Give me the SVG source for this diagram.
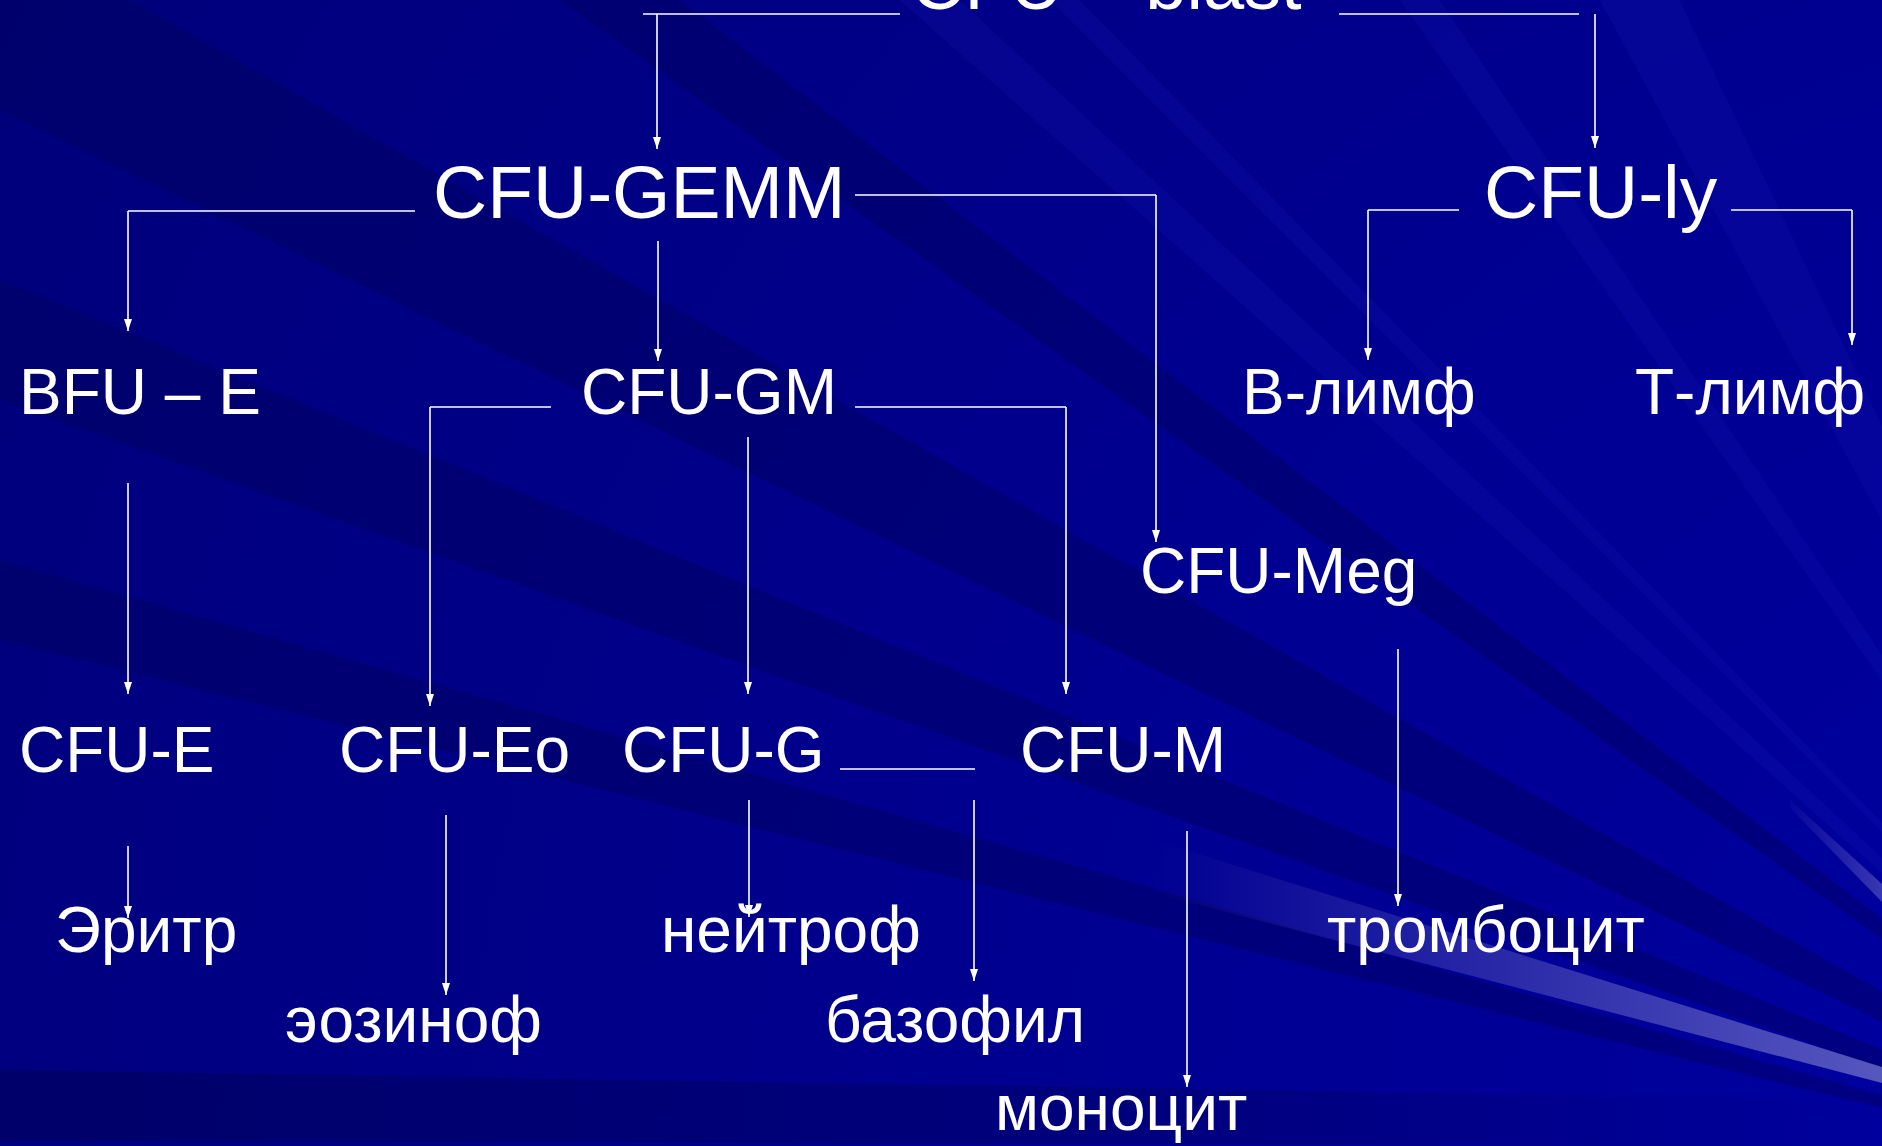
<svg xmlns="http://www.w3.org/2000/svg" width="1882" height="1146" viewBox="0 0 1882 1146">
<defs>
<radialGradient id="bg" gradientUnits="userSpaceOnUse" cx="2250" cy="1200" r="2600">
<stop offset="0" stop-color="#0000A4"/>
<stop offset="1" stop-color="#00007A"/>
</radialGradient>
<linearGradient id="ray1" gradientUnits="userSpaceOnUse" x1="1150" y1="0" x2="1882" y2="0">
<stop offset="0" stop-color="#FFFFFF" stop-opacity="0"/>
<stop offset="1" stop-color="#FFFFFF" stop-opacity="0.34"/>
</linearGradient>
<linearGradient id="ray2" gradientUnits="userSpaceOnUse" x1="1780" y1="0" x2="1882" y2="0">
<stop offset="0" stop-color="#FFFFFF" stop-opacity="0"/>
<stop offset="1" stop-color="#FFFFFF" stop-opacity="0.22"/>
</linearGradient>
<linearGradient id="botfade" gradientUnits="userSpaceOnUse" x1="0" y1="0" x2="1882" y2="0">
<stop offset="0" stop-color="#000058" stop-opacity="0.55"/>
<stop offset="0.7" stop-color="#000058" stop-opacity="0.3"/>
<stop offset="1" stop-color="#000058" stop-opacity="0"/>
</linearGradient>
<marker id="arr" viewBox="0 0 12 8" refX="12" refY="4" markerUnits="userSpaceOnUse" markerWidth="12" markerHeight="8" orient="auto">
<path d="M0,0 L12,4 L0,8 z" fill="#FFFFFF"/>
</marker>
<style>
.t{font-family:"Liberation Sans",Arial,sans-serif;fill:#FFFFFF}
.big{font-size:75px}
.mid{font-size:64px}
.c line{stroke:#FFFFFF;stroke-width:1.6;fill:none}
.a{marker-end:url(#arr)}
.dk{fill:#00005A;opacity:0.42}
.lt{fill:#2020C8;opacity:0.14}
</style>
</defs>
<g id="background">
<rect x="0" y="0" width="1882" height="1146" fill="url(#bg)"/>
<polygon class="dk" points="2250,1200 -400,-300 -300,-35"/>
<polygon class="dk" points="2250,1200 137,-300 287,-300"/>
<polygon class="dk" points="2250,1200 -300,157 -300,293"/>
<polygon class="dk" points="2250,1200 -300,475 -300,565"/>
<polygon class="lt" points="2250,1200 562,-300 637,-300"/>
<polygon class="lt" points="2250,1200 750,-300 787,-300"/>
<polygon class="lt" points="2250,1200 1187,-300 1237,-300"/>
<polygon class="lt" points="2250,1200 1437,-300 1537,-300"/>
<polygon points="0,1070 1882,1100 1882,1146 0,1140" fill="url(#botfade)"/>
<polygon points="1150,839 1882,1067 1882,1083 1150,892" fill="url(#ray1)"/>
<polygon points="1790,800 1882,884 1882,902 1790,808" fill="url(#ray2)"/>
</g>
<g id="connectors" class="c">
<line x1="643" y1="14" x2="900" y2="14"/>
<line class="a" x1="657" y1="14" x2="657" y2="149"/>
<line x1="1339" y1="14" x2="1579" y2="14"/>
<line class="a" x1="1595" y1="14" x2="1595" y2="148"/>
<line x1="415" y1="211" x2="128" y2="211"/>
<line class="a" x1="128" y1="211" x2="128" y2="331"/>
<line class="a" x1="658" y1="241" x2="658" y2="361"/>
<line x1="855" y1="195" x2="1156" y2="195"/>
<line class="a" x1="1156" y1="195" x2="1156" y2="542"/>
<line x1="1459" y1="210" x2="1368" y2="210"/>
<line class="a" x1="1368" y1="210" x2="1368" y2="360"/>
<line x1="1731" y1="210" x2="1852" y2="210"/>
<line class="a" x1="1852" y1="210" x2="1852" y2="345"/>
<line class="a" x1="128" y1="483" x2="128" y2="694"/>
<line x1="551" y1="407" x2="430" y2="407"/>
<line class="a" x1="430" y1="407" x2="430" y2="706"/>
<line class="a" x1="748" y1="437" x2="748" y2="694"/>
<line x1="855" y1="407" x2="1066" y2="407"/>
<line class="a" x1="1066" y1="407" x2="1066" y2="694"/>
<line class="a" x1="1398" y1="649" x2="1398" y2="906"/>
<line x1="840" y1="769" x2="975" y2="769"/>
<line class="a" x1="128" y1="846" x2="128" y2="918"/>
<line class="a" x1="446" y1="815" x2="446" y2="995"/>
<line class="a" x1="749" y1="800" x2="749" y2="917"/>
<line class="a" x1="974" y1="800" x2="974" y2="981"/>
<line class="a" x1="1187" y1="831" x2="1187" y2="1087"/>
</g>
<g id="n-blast"><text class="t" style="font-size:74px" x="911" y="9">CFU – blast</text></g>
<g id="n-gemm"><text class="t big" x="433" y="218">CFU-GEMM</text></g>
<g id="n-ly"><text class="t big" x="1484" y="218">CFU-ly</text></g>
<g id="n-bfue"><text class="t mid" x="19" y="414">BFU – E</text></g>
<g id="n-gm"><text class="t mid" x="581" y="414">CFU-GM</text></g>
<g id="n-blymph"><text class="t mid" x="1242" y="414">В-лимф</text></g>
<g id="n-tlymph"><text class="t mid" x="1635" y="414">Т-лимф</text></g>
<g id="n-meg"><text class="t mid" x="1140" y="593">CFU-Meg</text></g>
<g id="n-cfue"><text class="t mid" x="19" y="772">CFU-E</text></g>
<g id="n-cfueo"><text class="t mid" x="339" y="772">CFU-Eo</text></g>
<g id="n-cfug"><text class="t mid" x="622" y="772">CFU-G</text></g>
<g id="n-cfum"><text class="t mid" x="1020" y="772">CFU-M</text></g>
<g id="n-eritr"><text class="t mid" x="55" y="952">Эритр</text></g>
<g id="n-neitr"><text class="t mid" x="661" y="952">нейтроф</text></g>
<g id="n-tromb"><text class="t mid" x="1327" y="952">тромбоцит</text></g>
<g id="n-eozin"><text class="t mid" x="285" y="1042">эозиноф</text></g>
<g id="n-bazo"><text class="t mid" x="825" y="1042">базофил</text></g>
<g id="n-mono"><text class="t mid" x="995" y="1130">моноцит</text></g>
</svg>
